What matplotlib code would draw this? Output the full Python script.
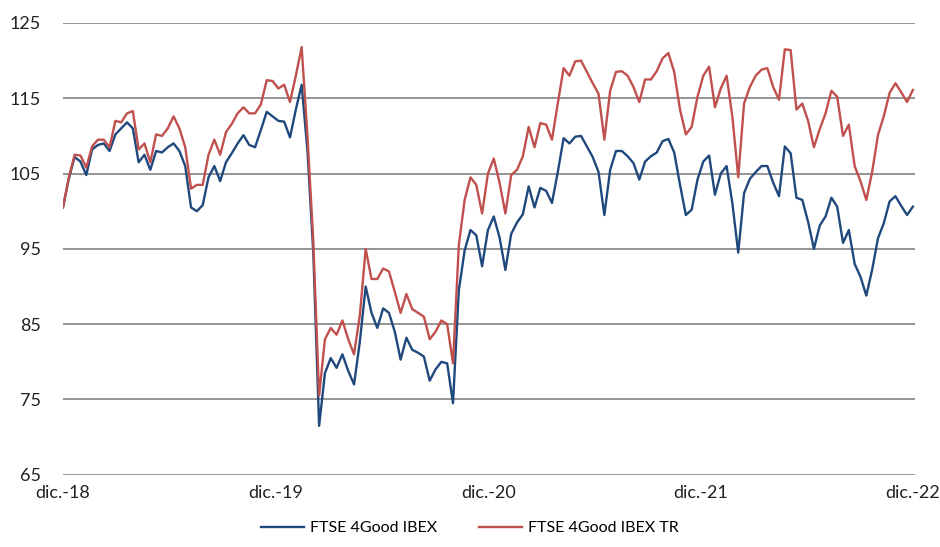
import numpy as np
import pandas as pd
import matplotlib
matplotlib.use('Agg')
from matplotlib import pyplot as plt
import matplotlib.dates as mdates

plt.rcParams['font.family'] = ['Lato', 'DejaVu Sans']

# values, one every 10 days from 31-dic-2018
fechas = pd.date_range('2018-12-31', periods=147, freq='10D')

ibex_tr = [
    100.5, 104.5, 107.5, 107.4, 105.8, 108.6, 109.5, 109.5, 108.5, 112.0,
    111.8, 113.0, 113.3, 108.2, 109.0, 106.5, 110.2, 110.0, 111.0, 112.6,
    111.0, 108.5, 103.0, 103.5, 103.5, 107.5, 109.5, 107.5, 110.5, 111.6,
    113.0, 113.8, 113.0, 113.0, 114.2, 117.4, 117.3, 116.3, 116.8, 114.5,
    118.0, 121.8, 110.0, 96.0, 75.5, 83.0, 84.5, 83.6, 85.5, 83.0,
    81.0, 86.2, 95.0, 91.0, 91.0, 92.4, 92.0, 89.3, 86.5, 89.0,
    87.0, 86.5, 86.0, 83.0, 84.0, 85.5, 85.0, 79.8, 95.5, 101.5,
    104.5, 103.5, 99.7, 105.0, 107.0, 103.8, 99.7, 104.8, 105.5, 107.3,
    111.2, 108.5, 111.7, 111.5, 109.5, 114.3, 119.0, 118.0, 119.9, 120.0,
    118.5, 117.0, 115.6, 109.5, 116.0, 118.5, 118.6, 118.0, 116.5, 114.5,
    117.5, 117.5, 118.6, 120.3, 121.0, 118.5, 113.5, 110.2, 111.2, 115.2,
    118.0, 119.2, 113.8, 116.3, 118.0, 112.5, 104.5, 114.3, 116.5, 118.0,
    118.8, 119.0, 116.5, 114.8, 121.5, 121.4, 113.5, 114.3, 112.0, 108.5,
    110.9, 113.0, 116.0, 115.2, 110.0, 111.5, 106.0, 104.0, 101.5, 105.2,
    110.1, 112.6, 115.7, 117.0, 115.8, 114.5, 116.1,
]

ibex = [
    100.5, 104.3, 107.2, 106.6, 104.8, 108.2, 108.8, 109.0, 108.0, 110.2,
    111.0, 111.8, 111.0, 106.5, 107.5, 105.5, 108.0, 107.8, 108.5, 109.0,
    108.0, 106.0, 100.5, 100.0, 100.8, 104.5, 106.0, 104.0, 106.5, 107.7,
    109.0, 110.1, 108.8, 108.5, 110.8, 113.2, 112.6, 112.0, 111.9, 109.8,
    113.5, 116.8, 108.0, 94.5, 71.5, 78.5, 80.5, 79.2, 81.0, 78.8,
    77.0, 82.7, 90.0, 86.5, 84.5, 87.1, 86.5, 84.0, 80.3, 83.2,
    81.6, 81.2, 80.7, 77.5, 79.0, 80.0, 79.8, 74.5, 89.5, 94.8,
    97.5, 96.8, 92.7, 97.5, 99.3, 96.5, 92.2, 97.0, 98.5, 99.6,
    103.3, 100.5, 103.1, 102.7, 101.1, 105.2, 109.7, 109.0, 109.9, 110.0,
    108.6, 107.2, 105.2, 99.5, 105.5, 108.0, 108.0, 107.3, 106.4, 104.2,
    106.6, 107.3, 107.8, 109.3, 109.6, 107.8, 103.5, 99.5, 100.2, 104.2,
    106.6, 107.4, 102.2, 105.0, 106.0, 101.0, 94.5, 102.4, 104.3, 105.2,
    106.0, 106.0, 103.8, 102.0, 108.6, 107.7, 101.8, 101.5, 98.6, 95.0,
    98.1, 99.3, 101.8, 100.6, 95.8, 97.5, 93.0, 91.3, 88.8, 92.2,
    96.4, 98.4, 101.3, 102.0, 100.7, 99.5, 100.6,
]

ticks = pd.to_datetime(['2018-12-31', '2019-12-31', '2020-12-31', '2021-12-31', '2022-12-30'])
tick_labels = ['dic.-18', 'dic.-19', 'dic.-20', 'dic.-21', 'dic.-22']
y_ticks = [65, 75, 85, 95, 105, 115, 125]

fig = plt.figure(figsize=(9.4, 5.47), dpi=100)
ax = fig.add_axes([0.067, 0.132, 0.906, 0.826])

ax.plot(fechas, ibex, color='#1F497D', lw=1.7, label='FTSE 4Good IBEX')
ax.plot(fechas, ibex_tr, color='#C0504D', lw=1.7, label='FTSE 4Good IBEX TR')

ax.set_ylim(65, 125)
ax.set_yticks(y_ticks)
ax.set_xlim(ticks[0], ticks[-1] + pd.Timedelta(days=3))
ax.set_xticks(ticks)
ax.set_xticklabels(tick_labels)
ax.grid(axis='y', color='#8C8C8C', lw=1.3)
ax.set_axisbelow(True)
for s in ax.spines.values():
    s.set_visible(False)
ax.tick_params(axis='y', length=0, pad=16, labelsize=13, colors='#222222')
ax.tick_params(axis='x', length=0, pad=7, labelsize=13, colors='#222222')

fig.legend(loc='lower center', bbox_to_anchor=(0.5, -0.005), ncol=2, frameon=False,
           fontsize=11.5, handlelength=2.7, handletextpad=0.4, columnspacing=2.6)

plt.savefig('out.png', dpi=100)
